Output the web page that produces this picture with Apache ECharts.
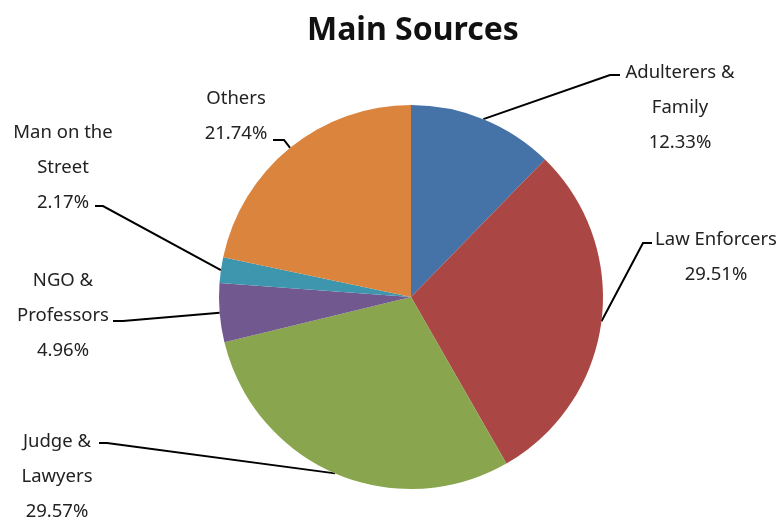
<!DOCTYPE html>
<html>
<head>
<meta charset="utf-8">
<script src="https://cdn.jsdelivr.net/npm/echarts@6/dist/echarts.min.js"></script>
<style>
  html, body { margin: 0; padding: 0; background: #ffffff; }
  #chart { width: 782px; height: 520px; }
</style>
</head>
<body>
<div id="chart"></div>
<script>
// Share of each main source (percent)
const categories = ['Adulterers &\nFamily', 'Law Enforcers', 'Judge &\nLawyers', 'NGO &\nProfessors', 'Man on the\nStreet', 'Others'];
const shares = [12.33, 29.51, 29.57, 4.96, 2.17, 21.74];
const sliceColors = ['#4572A7', '#AA4643', '#89A54E', '#71588F', '#3D96AE', '#DB843D'];

// Where each callout sits: text centre x, text top y, leader bend point, leader end point
const callouts = [
  { x: 680, y: 55,  bend: [610, 75],  end: [620, 75] },
  { x: 716, y: 222, bend: [643, 243], end: [652, 243] },
  { x: 57,  y: 424, bend: [107, 443], end: [99, 443] },
  { x: 63,  y: 263, bend: [123, 321], end: [113, 321] },
  { x: 63,  y: 115, bend: [103, 206], end: [95, 206] },
  { x: 236, y: 81,  bend: [284, 140], end: [273, 140] }
];

const chart = echarts.init(document.getElementById('chart'), null, { renderer: 'canvas' });

chart.setOption({
  backgroundColor: '#ffffff',
  animation: false,
  title: {
    text: 'Main Sources',
    left: 302,
    top: 10,
    textStyle: { fontFamily: 'Noto Sans', fontSize: 32, fontWeight: 'bold', color: '#111111' }
  },
  series: [{
    type: 'pie',
    center: [411, 297],
    radius: 192,
    startAngle: 90,
    clockwise: true,
    avoidLabelOverlap: false,
    data: categories.map((name, i) => ({
      name: name,
      value: shares[i],
      itemStyle: { color: sliceColors[i] }
    })),
    itemStyle: { borderWidth: 0 },
    label: {
      show: true,
      position: 'outer',
      formatter: p => p.name + '\n' + p.value.toFixed(2) + '%',
      fontFamily: 'Noto Sans',
      fontSize: 18.5,
      lineHeight: 35,
      color: '#222222',
      align: 'center'
    },
    labelLine: {
      show: true,
      length: 20,
      length2: 10,
      lineStyle: { color: '#000000', width: 2 }
    },
    labelLayout: function (params) {
      const c = callouts[params.dataIndex];
      const start = params.labelLinePoints ? params.labelLinePoints[0] : c.bend;
      return {
        x: c.x,
        y: c.y,
        align: 'center',
        verticalAlign: 'top',
        labelLinePoints: [start, c.bend, c.end]
      };
    },
    emphasis: { disabled: true }
  }]
});
</script>
</body>
</html>
